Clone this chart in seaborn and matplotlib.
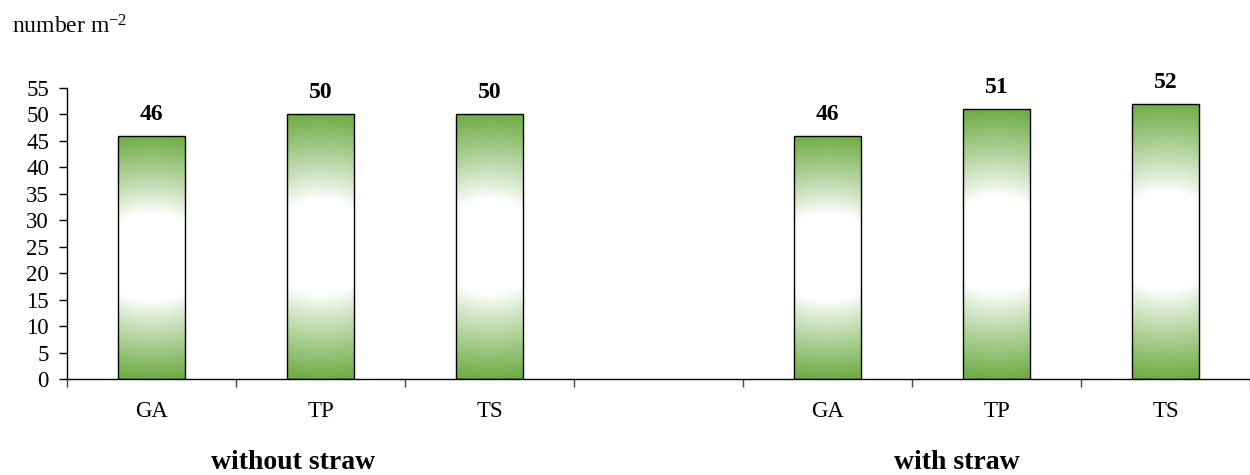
import numpy as np
import pandas as pd
import matplotlib
matplotlib.use("Agg")
import matplotlib.pyplot as plt
import matplotlib.colors as mcolors
import seaborn as sns

# ---- data ----
groups = ["without straw", "with straw"]
categories = ["GA", "TP", "TS"]
values_without = [46, 50, 50]
values_with = [46, 51, 52]
y_ticks = list(range(0, 60, 5))

sns.set_theme(style="white")
plt.rcParams["font.family"] = ["Liberation Serif", "DejaVu Serif"]
plt.rcParams["text.color"] = "black"
plt.rcParams["xtick.color"] = "black"
plt.rcParams["ytick.color"] = "black"
plt.rcParams["axes.labelcolor"] = "black"
plt.rcParams["mathtext.fontset"] = "custom"
plt.rcParams["mathtext.rm"] = "Liberation Serif"
plt.rcParams["mathtext.it"] = "Liberation Serif:italic"
plt.rcParams["mathtext.bf"] = "Liberation Serif:bold"

# slots: 3 bars, one empty slot, 3 bars
slot_gap = len(categories) + 1
rows = []
for gi, (g, vals) in enumerate(zip(groups, [values_without, values_with])):
    for ci, (c, v) in enumerate(zip(categories, vals)):
        rows.append({"slot": gi * slot_gap + ci, "group": g, "cat": c, "value": v})
df = pd.DataFrame(rows)

fig = plt.figure(figsize=(12.5, 4.75), dpi=100)
ax = fig.add_axes([67 / 1250, 1 - 379 / 475, 1 - 67 / 1250, (379 - 88) / 475])

green = "#70AD47"
sns.barplot(data=df, x="slot", y="value", native_scale=True, width=0.4,
            color=green, edgecolor="black", linewidth=1.0, ax=ax, errorbar=None)

# gradient fill: green at top/bottom, white centre (wide ellipse)
H, W = 300, 60
v = np.linspace(0, 1, H)[:, None]
u = np.linspace(0, 1, W)[None, :]
r = np.sqrt(((u - 0.5) / 2.2) ** 2 + ((v - 0.5) / 0.5) ** 2)
t = np.clip((r - 0.36) / (1.0 - 0.36), 0, 1) ** 0.9
g_rgb = np.array(mcolors.to_rgb(green))
img = (1 - t)[..., None] * np.ones(3) + t[..., None] * g_rgb

for p in list(ax.patches):
    x0, y0, w, h = p.get_x(), p.get_y(), p.get_width(), p.get_height()
    im = ax.imshow(img, extent=[x0, x0 + w, y0, y0 + h], aspect="auto",
                   origin="lower", zorder=p.get_zorder() - 0.1, interpolation="bilinear")
    im.set_clip_path(p)
    p.set_facecolor("none")

ax.bar_label(ax.containers[0], fmt="%d", padding=8, fontsize=17, fontweight="bold",
             color="black")

x_right = -0.5 + (1250 - 67) / 171
ax.set_xlim(-0.5, x_right)
ax.set_ylim(0, 55)
ax.set_yticks(y_ticks)
ax.set_yticklabels([str(t_) for t_ in y_ticks], fontsize=16.5)

# boundary ticks (major) and category labels (minor)
ax.set_xticks(np.arange(-0.5, 2 * slot_gap - 1, 1.0))
ax.set_xticklabels([])
ax.set_xticks(df["slot"].to_numpy(), minor=True)
ax.set_xticklabels(df["cat"].tolist(), minor=True, fontsize=16.5)
ax.tick_params(axis="x", which="major", direction="out", length=6, width=1, color="#444444", bottom=True)
ax.tick_params(axis="x", which="minor", length=0, pad=16, bottom=True)
ax.tick_params(axis="y", direction="out", length=6, width=1, color="black", left=True, pad=7)
ax.set_xlabel("")
ax.set_ylabel("")

for s in ["top", "right"]:
    ax.spines[s].set_visible(False)
for s in ["left", "bottom"]:
    ax.spines[s].set_color("black")
    ax.spines[s].set_linewidth(1.0)

# group labels
fig.text(293 / 1250, 0.012, groups[0], ha="center", va="baseline", fontsize=20, fontweight="bold")
fig.text(957 / 1250, 0.012, groups[1], ha="center", va="baseline", fontsize=20, fontweight="bold")

fig.text(12 / 1250, 1 - 34 / 475, "number m$^{-2}$", ha="left", va="baseline", fontsize=17)

fig.savefig("out.png", dpi=100)
